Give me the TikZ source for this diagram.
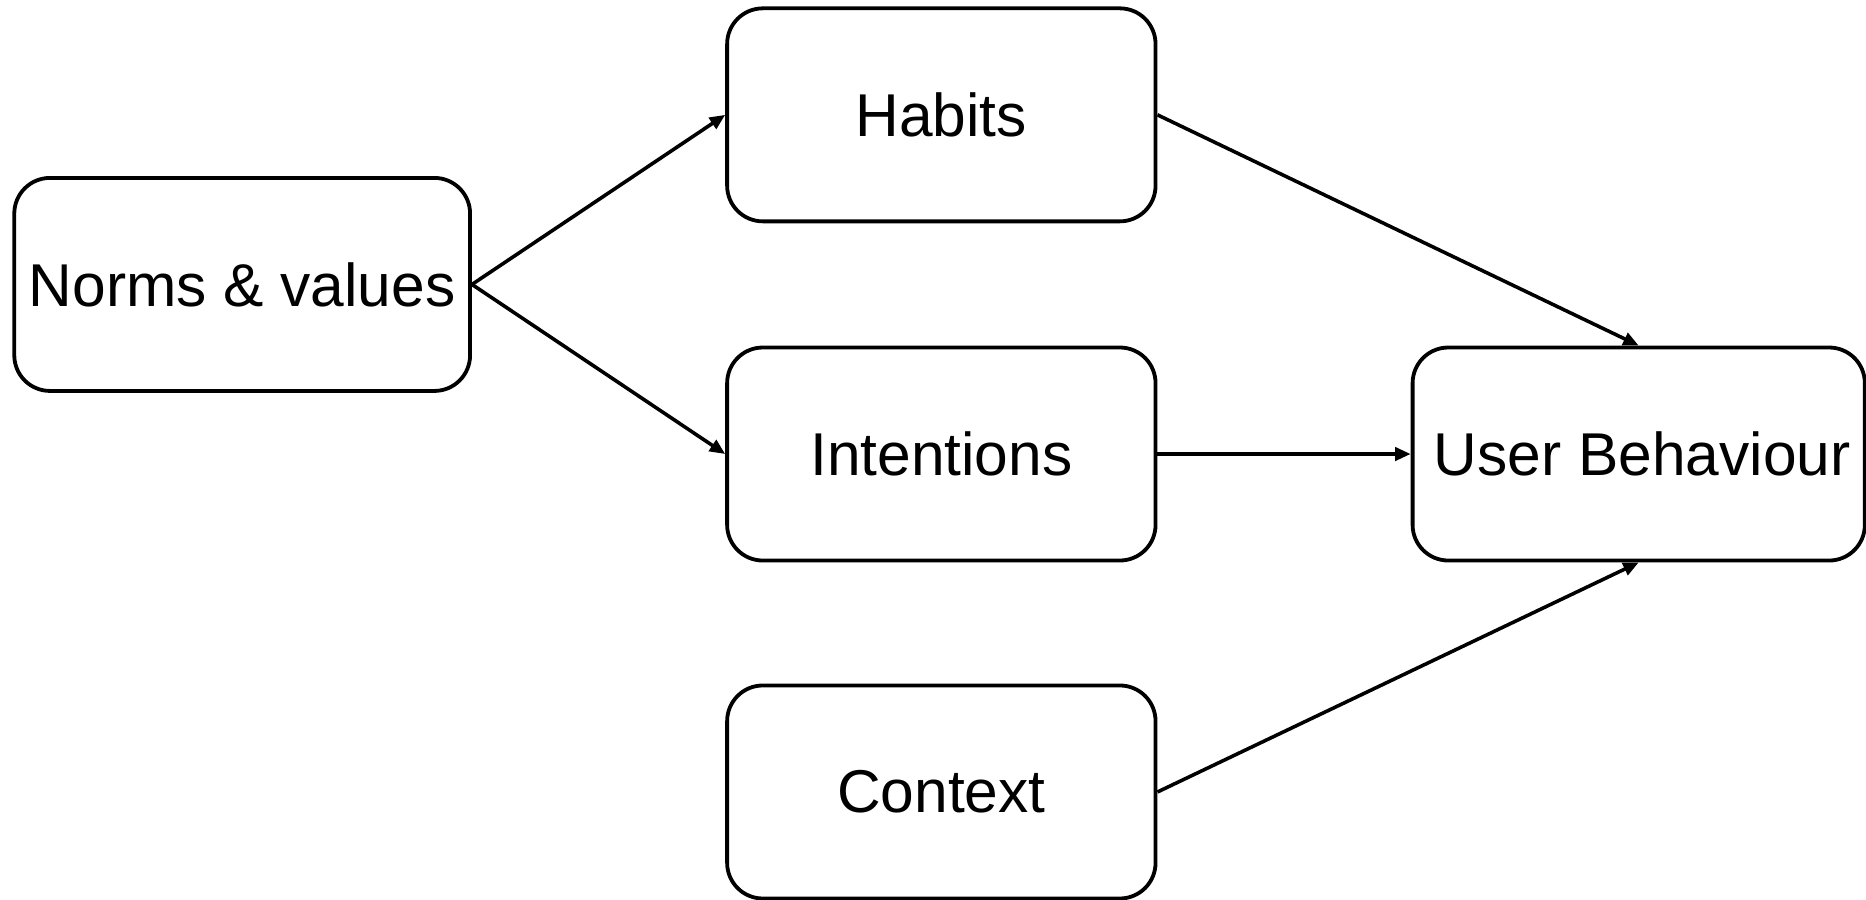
\documentclass[tikz,border=0pt]{standalone}
\usepackage{fontspec}
\setmainfont{Liberation Sans}
\usetikzlibrary{arrows.meta}
\begin{document}
\begin{tikzpicture}[x=0.5pt,y=-0.5pt,
  box/.style={draw=black, line width=1.6pt, rounded corners=15pt, fill=white,
    minimum height=89.5pt, inner sep=0pt, font=\fontsize{25.4}{30}\selectfont},
  link/.style={line width=1.5pt, -{Triangle[length=6.5pt,width=5.5pt]}}]
\useasboundingbox (0,0) rectangle (1568,756);
\node[box, minimum width=191.5pt] (norms) at (203.5,239) {Norms \& values};
\node[box, minimum width=180pt] (habits) at (791,96.5) {Habits};
\node[box, minimum width=180pt] (intent) at (791,381.5) {Intentions};
\node[box, minimum width=180pt] (context) at (791,665.5) {Context};
\node[box, minimum width=190pt] (user) at (1377,381.5) {\hspace*{3pt}User Behaviour};
\draw[link] (norms.east) -- (habits.west);
\draw[link] (norms.east) -- (intent.west);
\draw[link] (habits.east) -- (user.north);
\draw[link] (intent.east) -- (user.west);
\draw[link] (context.east) -- (user.south);
\end{tikzpicture}
\end{document}
